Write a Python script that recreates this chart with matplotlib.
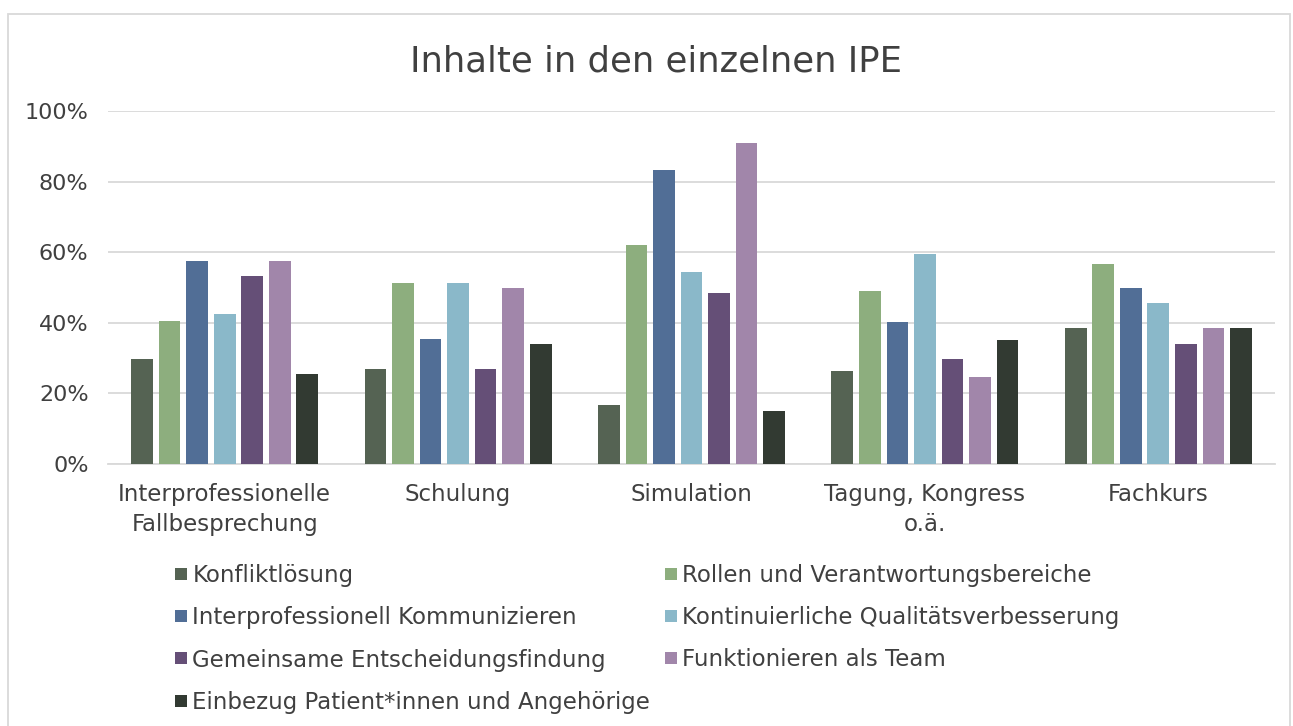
import matplotlib
matplotlib.use("Agg")
import matplotlib.pyplot as plt
import numpy as np
from matplotlib.lines import Line2D
from matplotlib.patches import Rectangle
from matplotlib.ticker import FuncFormatter

categories = ["Interprofessionelle\nFallbesprechung", "Schulung", "Simulation",
              "Tagung, Kongress\no.ä.", "Fachkurs"]
series_names = ["Konfliktlösung", "Rollen und Verantwortungsbereiche",
                "Interprofessionell Kommunizieren", "Kontinuierliche Qualitätsverbesserung",
                "Gemeinsame Entscheidungsfindung", "Funktionieren als Team",
                "Einbezug Patient*innen und Angehörige"]
konflikt = [29.7, 26.8, 16.7, 26.3, 38.6]
rollen = [40.4, 51.2, 62.1, 49.0, 56.7]
kommunizieren = [57.4, 35.3, 83.4, 40.3, 49.9]
qualitaet = [42.5, 51.2, 54.5, 59.6, 45.5]
entscheidung = [53.2, 26.8, 48.4, 29.7, 34.0]
team = [57.4, 49.9, 90.9, 24.6, 38.6]
einbezug = [25.5, 34.1, 15.1, 35.1, 38.6]
series_values = [konflikt, rollen, kommunizieren, qualitaet, entscheidung, team, einbezug]
colors = ["#556353", "#8DAE7E", "#516E96", "#8AB8C9", "#654F77", "#A186AA", "#323A32"]
yticks = [0, 20, 40, 60, 80, 100]

W, H = 1293, 726
fig = plt.figure(figsize=(W / 100, H / 100), dpi=100)
plt.rcParams['font.family'] = ['DejaVu Sans']
txt = "#404040"

# outer chart border
fig.patches.append(Rectangle((8 / W, 1 - 740 / H), (1290 - 8) / W, (740 - 14) / H,
                             transform=fig.transFigure, fill=False,
                             edgecolor="#d9d9d9", linewidth=1.3))

left, right, top, bottom = 108, 1275, 111, 464
ax = fig.add_axes([left / W, 1 - bottom / H, (right - left) / W, (bottom - top) / H])

x = np.arange(len(categories))
slot = 0.118
bw = 0.093
for i, (vals, c) in enumerate(zip(series_values, colors)):
    ax.bar(x + (i - 3) * slot, vals, width=bw, color=c, zorder=3)

ax.set_xlim(-0.5, len(categories) - 0.5)
ax.set_ylim(0, 100)
ax.set_yticks(yticks)
ax.yaxis.set_major_formatter(FuncFormatter(lambda v, p: f"{int(v)}%"))
ax.grid(axis="y", color="#d9d9d9", linewidth=1.3, zorder=0)
ax.set_axisbelow(True)
for s in ["top", "right", "left"]:
    ax.spines[s].set_visible(False)
ax.spines["bottom"].set_color("#d9d9d9")
ax.spines["bottom"].set_linewidth(1.3)
ax.set_xticks(x)
ax.set_xticklabels(categories, fontsize=16.5, color=txt, linespacing=1.35)
ax.tick_params(axis="x", length=0, pad=14)
ax.tick_params(axis="y", length=0, pad=14, labelsize=16, labelcolor=txt)

fig.text(656 / W, 1 - 61 / H, "Inhalte in den einzelnen IPE", ha="center", va="center",
         fontsize=25.5, color=txt)

handles = [Line2D([], [], marker="s", linestyle="none", markersize=8.5, color=c,
                  markeredgewidth=0) for c in colors]
order = [0, 2, 4, 6, 1, 3, 5]
fig.legend([handles[i] for i in order], [series_names[i] for i in order],
           loc="upper left", bbox_to_anchor=(174 / W, 1 - 564 / H), ncol=2,
           frameon=False, fontsize=16.5, labelcolor=txt, handlelength=0.6,
           handletextpad=0.2, columnspacing=0.6, labelspacing=0.84,
           borderaxespad=0, borderpad=0)

fig.savefig("out.png", dpi=100)
